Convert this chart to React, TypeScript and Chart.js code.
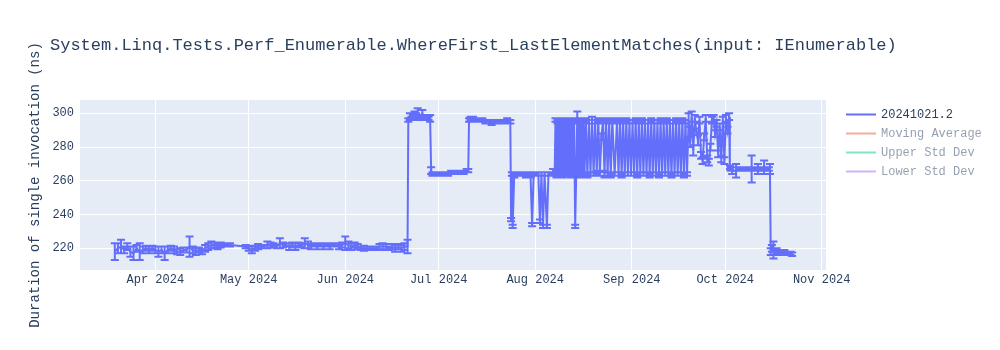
import React, { useEffect, useRef } from "react";
import { Chart, registerables } from "chart.js";

Chart.register(...registerables);

const YEAR = "2024";
const TITLE = "System.Linq.Tests.Perf_Enumerable.WhereFirst_LastElementMatches(input: IEnumerable)";
const Y_TITLE = "Duration of single invocation (ns)";
const SERIES_LABEL = "20241021.2";
const HIDDEN_LABELS = ["Moving Average", "Upper Std Dev", "Lower Std Dev"];

const X_TICK_DATES = ["04-01", "05-01", "06-01", "07-01", "08-01", "09-01", "10-01", "11-01"];
const X_TICK_LABELS = ["Apr 2024", "May 2024", "Jun 2024", "Jul 2024", "Aug 2024", "Sep 2024", "Oct 2024", "Nov 2024"];
const Y_TICKS = [220, 240, 260, 280, 300];
const X_RANGE = ["03-07T19:40", "11-02T09:00"];
const Y_RANGE = [207.13, 307.88];

// Phase 1: low plateau (Mar - Jun)
const lowDates = [
  "03-19", "03-20", "03-21", "03-22", "03-23", "03-24", "03-25", "03-26", "03-27", "03-28", "03-29", "03-30", "03-31",
  "04-01", "04-02", "04-03", "04-04", "04-05", "04-06", "04-07", "04-08", "04-09", "04-10",
  "04-11", "04-12", "04-13", "04-14", "04-15", "04-16", "04-17", "04-18", "04-19", "04-20",
  "04-21", "04-22", "04-23", "04-24", "04-25", "04-30",
  "05-01", "05-02", "05-03", "05-04", "05-05", "05-06", "05-07", "05-08", "05-09", "05-10",
  "05-11", "05-12", "05-13", "05-14", "05-15", "05-16", "05-17", "05-18", "05-19", "05-20",
  "05-21", "05-22", "05-23", "05-24", "05-25", "05-26", "05-27", "05-28", "05-29", "05-30", "05-31",
  "06-01", "06-02", "06-03", "06-04", "06-05", "06-06", "06-07", "06-08", "06-09", "06-10",
  "06-11", "06-12", "06-13", "06-14", "06-15", "06-16", "06-17", "06-18", "06-19", "06-20", "06-21",
];
const lowValues = [
  218, 220, 221, 219, 221, 218, 217, 220, 218, 219, 220, 219, 220,
  219, 218, 219, 217, 219, 220, 219, 218, 218, 219,
  219, 221, 219, 218, 219, 218, 220, 221, 222, 222,
  221, 222, 222, 222, 222, 221,
  220, 219, 220, 221, 221, 221, 222, 222, 222, 221,
  223, 222, 222, 221, 222, 221, 222, 222, 223, 222,
  221, 222, 221, 222, 221, 222, 221, 222, 222, 221, 222,
  223, 222, 221, 222, 221, 220, 220, 220, 220, 220,
  220, 221, 221, 221, 220, 221, 220, 221, 220, 221, 221,
];
const lowErrors = [
  5, 3, 4, 2, 2, 3, 4, 2, 5, 2, 1.5, 2, 1.5,
  2, 3, 2, 4, 2, 1.5, 2, 1.5, 2, 1.5,
  1.5, 6, 2, 2, 1.5, 1.5, 2, 2, 2, 1.5,
  1.5, 1.5, 1, 1, 1, 1,
  1.5, 2, 1.5, 1.5, 1, 1, 2, 1.5, 1, 1,
  3, 1.5, 1, 2, 1.5, 2, 1.5, 1, 3, 2,
  1.5, 1, 1.5, 1, 1.5, 1, 1.5, 1, 1, 1.5, 1.5,
  4, 2, 2, 1.5, 1.5, 1, 1.5, 1, 1, 1,
  1, 1.5, 2, 1.5, 1, 1.5, 2, 1.5, 2, 2, 4,
];

// Phase 2: first high plateau
const jumpDates = [
  "06-21T06", "06-21T18", "06-22T06", "06-22T18", "06-23T06", "06-23T18", "06-24T06", "06-24T18",
  "06-25T06", "06-25T18", "06-26T06", "06-26T18", "06-27T06", "06-27T18", "06-28T06",
];
const jumpValues = [296, 298, 297, 298, 299, 298, 300, 297, 298, 300, 298, 297, 298, 297, 297];
const jumpErrors = [1, 2, 1, 1, 2, 2, 3, 1, 1, 2, 1, 1, 1, 1, 2];

// Phase 3: first mid plateau
const midDates = [
  "06-28T14", "06-29", "06-30", "07-01", "07-02", "07-03", "07-04",
  "07-05", "07-06", "07-07", "07-08", "07-09", "07-10", "07-10T12",
];
const midValues = [266, 264, 264, 264, 264, 264, 264, 265, 265, 265, 265, 265, 266, 266];
const midErrors = [2, 1, 1, 1, 1, 1, 1, 1, 1, 1, 1, 1, 1, 1];

// Phase 4: second high plateau
const highDates = [
  "07-10T18", "07-11T06", "07-12", "07-13", "07-14", "07-15", "07-16", "07-17",
  "07-18", "07-19", "07-20", "07-21", "07-22", "07-23", "07-24",
];
const highValues = [296, 297, 297, 296, 296, 296, 295, 295, 294, 295, 295, 295, 295, 296, 295];
const highErrors = [1, 1, 1, 1, 1, 1, 1, 1, 1, 1, 1, 1, 1, 1, 1];

// Phase 5: mid plateau with dips
const dipDates = [
  "07-24T06", "07-24T12", "07-24T18", "07-25T06", "07-26", "07-27", "07-28", "07-29", "07-30", "07-30T12",
  "07-31", "07-31T12", "08-01", "08-02", "08-02T12", "08-03", "08-03T12", "08-04", "08-04T18", "08-05T06",
  "08-06", "08-06T18", "08-07T06",
];
const dipValues = [
  237, 264, 233, 263, 264, 264, 264, 263, 264, 263,
  234, 264, 264, 264, 236, 264, 233, 264, 233, 264,
  264, 265, 264,
];
const dipErrors = [
  1, 1, 1, 1, 1, 1, 1, 1, 1, 1,
  1, 1, 1, 1, 1, 1, 1, 1, 1, 1,
  1, 2, 1,
];

// Phase 6: oscillation between two levels
const flipDates = [
  "08-07T12", "08-07T20", "08-08T04", "08-08T12", "08-08T20", "08-09T04",
  "08-09T12", "08-09T20", "08-10T04", "08-10T12", "08-10T20", "08-11T04",
  "08-11T12", "08-11T20", "08-12T04", "08-12T12", "08-12T20", "08-13T04",
  "08-13T12", "08-13T20", "08-14T04", "08-14T12", "08-14T20", "08-15T04",
  "08-15T12", "08-15T20", "08-16T04", "08-16T12", "08-16T20", "08-17T06",
  "08-17T18", "08-18T06", "08-18T18", "08-19T06", "08-19T18", "08-20T06",
  "08-20T18", "08-21T06", "08-21T18", "08-22T06", "08-22T18", "08-23T06",
  "08-23T18", "08-24T06", "08-24T18", "08-25T06", "08-25T18", "08-26T12",
  "08-27T06", "08-27T18", "08-28T06", "08-28T18", "08-29T06", "08-29T18",
  "08-30T06", "08-30T18", "08-31T06", "08-31T18", "09-01T06", "09-01T18",
  "09-02T06", "09-02T18", "09-03T06", "09-03T18", "09-04T06", "09-04T18",
  "09-05T06", "09-05T18", "09-06T06", "09-06T18", "09-07T06", "09-07T18",
  "09-08T06", "09-08T18", "09-09T06", "09-09T18", "09-10T06", "09-10T18",
  "09-11T06", "09-11T18", "09-12T06", "09-12T18", "09-13T06", "09-13T18",
  "09-14T06", "09-14T18", "09-15T06", "09-15T18", "09-16T06", "09-16T18",
  "09-17T06", "09-17T18", "09-18T06", "09-18T18",
];
const flipValues = [
  296, 263, 295, 264, 296, 264,
  295, 263, 296, 264, 295, 264,
  296, 264, 295, 263, 296, 264,
  295, 233, 264, 298, 264, 295,
  263, 296, 264, 295, 264, 296,
  263, 295, 264, 296, 264, 295,
  265, 296, 264, 286, 295, 264,
  296, 264, 295, 263, 296, 264,
  295, 264, 296, 263, 295, 264,
  296, 264, 295, 264, 295, 264,
  296, 263, 295, 264, 296, 264,
  295, 264, 295, 263, 296, 264,
  295, 264, 295, 263, 296, 264,
  295, 264, 296, 264, 295, 263,
  295, 264, 296, 264, 295, 264,
  296, 263, 295, 264,
];
const flipErrors = [
  1, 1, 1, 1, 1, 1,
  1, 1, 1, 1, 1, 1,
  1, 1, 1, 1, 1, 1,
  1, 1, 1, 3, 1, 1,
  1, 1, 1, 1, 1, 1,
  1, 1, 1, 2, 1, 1,
  1, 1, 1, 2, 1, 2,
  1, 1, 1, 1, 1, 1,
  1, 1, 1, 1, 1, 1,
  1, 1, 1, 1, 1, 1,
  1, 1, 1, 1, 1, 1,
  1, 1, 1, 1, 1, 1,
  1, 1, 1, 1, 1, 1,
  1, 1, 1, 1, 1, 1,
  1, 1, 1, 1, 1, 1,
  1, 1, 1, 1,
];

// Phase 7: unstable high region
const wobbleDates = [
  "09-19T06", "09-19T18", "09-20T06", "09-20T18", "09-21T06", "09-21T18",
  "09-22T06", "09-22T18", "09-23T06", "09-23T18", "09-24T06", "09-24T18",
  "09-25T06", "09-25T18", "09-26T06", "09-26T18", "09-27T06", "09-27T18",
  "09-28T06", "09-28T18", "09-29T06", "09-29T18", "09-30T06", "09-30T18",
  "10-01T06", "10-01T18", "10-02T06", "10-02T12",
];
const wobbleValues = [
  296, 283, 298, 278, 297, 289,
  284, 296, 275, 272, 286, 297,
  273, 271, 280, 296, 297, 288,
  294, 276, 292, 273, 296, 272,
  297, 290, 298, 268,
];
const wobbleErrors = [
  4, 3, 3, 3, 2, 2,
  3, 2, 2, 2, 2, 2,
  2, 2, 2, 2, 2, 2,
  2, 2, 2, 2, 2, 2,
  2, 2, 2, 1,
];

// Phase 8: October mid plateau
const octDates = [
  "10-02T18", "10-03T06", "10-04T12", "10-05T00", "10-05T18", "10-06T12",
  "10-07T06", "10-08T00", "10-08T18", "10-09T12", "10-10T06", "10-11T00",
  "10-11T12", "10-12T06", "10-13T00", "10-13T12", "10-14T06", "10-15T00",
  "10-15T09",
];
const octValues = [
  267, 266, 266, 267, 267, 267,
  267, 267, 267, 267, 267, 267,
  267, 267, 267, 268, 267, 267,
  267,
];
const octErrors = [
  1, 2, 4, 1, 1, 1,
  1, 1, 1, 8, 1, 1,
  3, 1, 1, 4, 1, 1,
  3,
];

// Phase 9: final low level
const tailDates = [
  "10-15T15", "10-16T00", "10-16T12", "10-17T00", "10-17T12", "10-18T00",
  "10-18T12", "10-19T00", "10-19T12", "10-20T00", "10-20T12", "10-21T00",
  "10-21T12", "10-22T00", "10-22T12",
];
const tailValues = [218, 220, 219, 218, 219, 218, 218, 218, 217, 218, 217, 217, 217, 217, 216.5];
const tailErrors = [2, 2, 5, 2, 1, 1, 1, 1, 1, 1, 1, 1, 1, 1, 1];

const allDates = [
  ...lowDates, ...jumpDates, ...midDates, ...highDates, ...dipDates,
  ...flipDates, ...wobbleDates, ...octDates, ...tailDates,
];
const allValues = [
  ...lowValues, ...jumpValues, ...midValues, ...highValues, ...dipValues,
  ...flipValues, ...wobbleValues, ...octValues, ...tailValues,
];
const allErrors = [
  ...lowErrors, ...jumpErrors, ...midErrors, ...highErrors, ...dipErrors,
  ...flipErrors, ...wobbleErrors, ...octErrors, ...tailErrors,
];

const toMs = (d: string): number => {
  let s = d;
  if (s.length === 5) s += "T00:00";
  else if (s.length === 8) s += ":00";
  return Date.parse(`${YEAR}-${s}:00Z`);
};

const FONT = "'Courier New', 'Liberation Mono', monospace";
const TEXT_COLOR = "#2a3f5f";
const LINE_COLOR = "#636efa";
const HIDDEN_COLORS = ["#EF553B", "#00cc96", "#ab63fa"];

const bgPlugin = {
  id: "plotBg",
  beforeDraw(chart: any) {
    const { ctx, chartArea } = chart;
    ctx.save();
    ctx.fillStyle = "#ffffff";
    ctx.fillRect(0, 0, chart.width, chart.height);
    ctx.fillStyle = "#e5ecf6";
    ctx.fillRect(chartArea.left, chartArea.top, chartArea.right - chartArea.left, chartArea.bottom - chartArea.top);
    ctx.restore();
  },
};

const errorBarPlugin = {
  id: "errorBars",
  afterDatasetsDraw(chart: any) {
    const { ctx, chartArea } = chart;
    const xs = chart.scales.x;
    const ys = chart.scales.y;
    chart.data.datasets.forEach((ds: any, i: number) => {
      const errs = ds.errorBars;
      if (!errs || !chart.isDatasetVisible(i)) return;
      ctx.save();
      ctx.beginPath();
      ctx.rect(chartArea.left, chartArea.top, chartArea.right - chartArea.left, chartArea.bottom - chartArea.top);
      ctx.clip();
      ctx.strokeStyle = ds.borderColor;
      ctx.lineWidth = 2;
      ctx.beginPath();
      ds.data.forEach((p: any, j: number) => {
        const e = errs[j];
        if (!e) return;
        const px = xs.getPixelForValue(p.x);
        const top = ys.getPixelForValue(p.y + e);
        const bot = ys.getPixelForValue(p.y - e);
        ctx.moveTo(px, top);
        ctx.lineTo(px, bot);
        ctx.moveTo(px - 4, top);
        ctx.lineTo(px + 4, top);
        ctx.moveTo(px - 4, bot);
        ctx.lineTo(px + 4, bot);
      });
      ctx.stroke();
      ctx.restore();
    });
  },
};

const titleLegendPlugin = {
  id: "titleLegend",
  afterDraw(chart: any) {
    const { ctx, chartArea } = chart;
    ctx.save();
    ctx.fillStyle = TEXT_COLOR;
    ctx.font = `17px ${FONT}`;
    ctx.textAlign = "left";
    ctx.textBaseline = "middle";
    ctx.fillText(TITLE, 50, 45);

    // y-axis title
    ctx.save();
    ctx.translate(35, (chartArea.top + chartArea.bottom) / 2);
    ctx.rotate(-Math.PI / 2);
    ctx.font = `14px ${FONT}`;
    ctx.textAlign = "center";
    ctx.fillText(Y_TITLE, 0, 0);
    ctx.restore();

    ctx.font = `12px ${FONT}`;
    ctx.textAlign = "left";
    chart.data.datasets.forEach((ds: any, i: number) => {
      const y = 114.5 + i * 19;
      const hidden = !!ds.legendOnly;
      ctx.globalAlpha = hidden ? 0.5 : 1;
      ctx.strokeStyle = ds.borderColor;
      ctx.lineWidth = 2;
      ctx.beginPath();
      ctx.moveTo(846, y);
      ctx.lineTo(876, y);
      ctx.stroke();
      ctx.fillStyle = TEXT_COLOR;
      ctx.fillText(ds.label, 881, y);
    });
    ctx.restore();
  },
};

export default function App() {
  const canvasRef = useRef<HTMLCanvasElement | null>(null);

  useEffect(() => {
    document.body.style.margin = "0";
    const canvas = canvasRef.current;
    if (!canvas) return;

    const points = allDates.map((d, i) => ({ x: toMs(d), y: allValues[i] }));
    const tickMs = X_TICK_DATES.map(toMs);

    const chart = new Chart(canvas, {
      type: "line",
      data: {
        datasets: [
          {
            label: SERIES_LABEL,
            data: points,
            borderColor: LINE_COLOR,
            backgroundColor: LINE_COLOR,
            borderWidth: 2,
            pointRadius: 0,
            tension: 0,
            errorBars: allErrors,
          } as any,
          ...HIDDEN_LABELS.map((label, i) => ({
            label,
            data: [],
            borderColor: HIDDEN_COLORS[i],
            backgroundColor: HIDDEN_COLORS[i],
            borderWidth: 2,
            pointRadius: 0,
            legendOnly: true,
          } as any)),
        ],
      },
      options: {
        animation: false,
        responsive: true,
        maintainAspectRatio: false,
        layout: { padding: { left: 0, top: 100, right: 174, bottom: 0 } },
        plugins: {
          legend: { display: false },
          title: { display: false },
          tooltip: { enabled: false },
        },
        scales: {
          x: {
            type: "linear",
            min: toMs(X_RANGE[0]),
            max: toMs(X_RANGE[1]),
            afterBuildTicks: (scale: any) => {
              scale.ticks = tickMs.map((v) => ({ value: v }));
            },
            afterFit: (scale: any) => {
              scale.height = 80;
            },
            ticks: {
              autoSkip: false,
              maxRotation: 0,
              padding: 3,
              color: TEXT_COLOR,
              font: { family: FONT, size: 12 },
              callback: (v: any) => {
                const idx = tickMs.indexOf(Number(v));
                return idx >= 0 ? X_TICK_LABELS[idx] : "";
              },
            },
            grid: { color: "#ffffff", lineWidth: 1, drawTicks: false },
            border: { display: false },
          },
          y: {
            type: "linear",
            min: Y_RANGE[0],
            max: Y_RANGE[1],
            afterBuildTicks: (scale: any) => {
              scale.ticks = Y_TICKS.map((v) => ({ value: v }));
            },
            afterFit: (scale: any) => {
              scale.width = 80;
            },
            ticks: {
              padding: 6,
              color: TEXT_COLOR,
              font: { family: FONT, size: 12 },
              callback: (v: any) => String(v),
            },
            grid: { color: "#ffffff", lineWidth: 1, drawTicks: false },
            border: { display: false },
            title: { display: false },
          },
        },
      },
      plugins: [bgPlugin, errorBarPlugin, titleLegendPlugin],
    } as any);

    return () => {
      chart.destroy();
    };
  }, []);

  return (
    <div style={{ position: "absolute", left: 0, top: 0, width: 1000, height: 350 }}>
      <canvas ref={canvasRef} />
    </div>
  );
}
